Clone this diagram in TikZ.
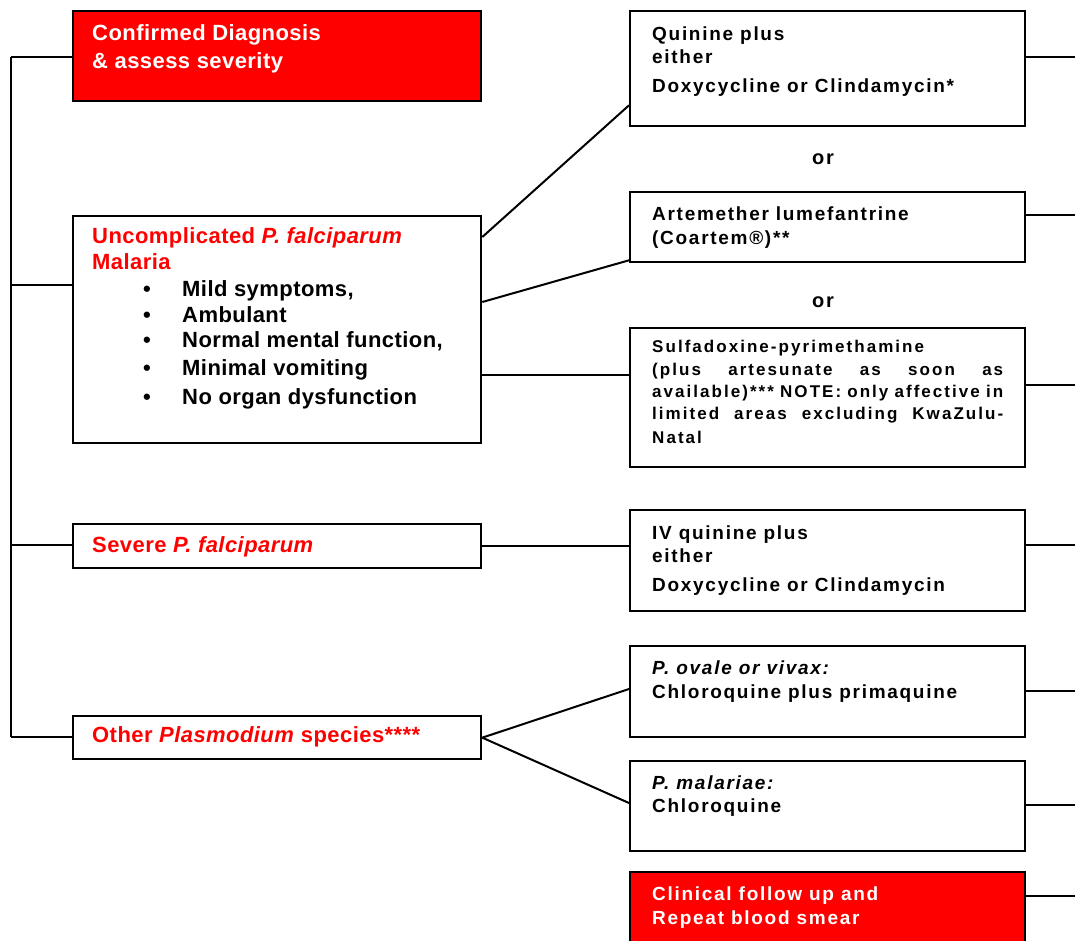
\documentclass[tikz,border=0pt]{standalone}
\usepackage{fontspec}
\setmainfont{Liberation Sans}
\newfontfamily\fL[LetterSpace=2]{Liberation Sans}
\newfontfamily\fR[LetterSpace=9]{Liberation Sans}
\newfontfamily\fS[LetterSpace=12]{Liberation Sans}
\definecolor{myred}{RGB}{255,0,0}
\begin{document}
\begin{tikzpicture}[x=1pt,y=-1pt,
 box/.style={draw=black, line width=2.3pt, fill=white, anchor=north west, inner sep=0pt},
 redbox/.style={box, fill=myred},
 conn/.style={line width=2pt},
 tl/.style={anchor=base west, inner sep=0pt, font=\fL\fontsize{22}{26}\selectfont\bfseries},
 tr/.style={anchor=base west, inner sep=0pt, font=\fR\fontsize{19}{22}\selectfont\bfseries},
 ts/.style={anchor=base west, inner sep=0pt, font=\fS\fontsize{17}{22}\selectfont\bfseries},
 ortext/.style={anchor=base, inner sep=0pt, font=\fR\fontsize{20}{24}\selectfont\bfseries},
]
\useasboundingbox (0,0) rectangle (1075,940);
\clip (0,0) rectangle (1075,940);

% left boxes
\node[redbox, minimum width=408pt, minimum height=90pt] (b1) at (72,10) {};
\node[box, minimum width=408pt, minimum height=227pt] (b2) at (72,215) {};
\node[box, minimum width=408pt, minimum height=44pt] (b3) at (72,523) {};
\node[box, minimum width=408pt, minimum height=43pt] (b4) at (72,715) {};

% right boxes
\node[box, minimum width=395pt, minimum height=115pt] (r1) at (629,10) {};
\node[box, minimum width=395pt, minimum height=70pt] (r2) at (629,191) {};
\node[box, minimum width=395pt, minimum height=139pt] (r3) at (629,327) {};
\node[box, minimum width=395pt, minimum height=101pt] (r4) at (629,509) {};
\node[box, minimum width=395pt, minimum height=91pt] (r5) at (629,645) {};
\node[box, minimum width=395pt, minimum height=90pt] (r6) at (629,760) {};
\node[redbox, minimum width=395pt, minimum height=80pt] (r7) at (629,871) {};

% left texts
\node[tl, text=white] (t1a) at (92,40) {Confirmed Diagnosis};
\node[tl, text=white] (t1b) at (92,68) {\& assess severity};
\node[tl, text=myred] (t2a) at (92,243) {Uncomplicated \textit{P. falciparum}};
\node[tl, text=myred] (t2b) at (92,269) {Malaria};
\foreach \yy/\txt [count=\i] in {296/{Mild symptoms,},322/{Ambulant},347/{Normal mental function,},375/{Minimal vomiting},404/{No organ dysfunction}}{
  \node[tl, anchor=base] (bu\i) at (147,\yy) {\textbullet};
  \node[tl] (bt\i) at (182,\yy) {\txt};
}
\node[tl, text=myred] (t3) at (92,552) {Severe \textit{P. falciparum}};
\node[tl, text=myred] (t4) at (92,742) {Other \textit{Plasmodium} species****};

% right texts
\node[tr] (s1a) at (652,40) {Quinine plus};
\node[tr] (s1b) at (652,63) {either};
\node[tr] (s1c) at (652,92) {Doxycycline or Clindamycin*};
\node[ortext] (or1) at (823,164) {or};
\node[tr] (s2a) at (652,220) {Artemether lumefantrine};
\node[tr] (s2b) at (652,244) {(Coartem®)**};
\node[ortext] (or2) at (823,307) {or};
\node[ts] (s3a) at (652,352) {Sulfadoxine-pyrimethamine};
\node[ts] (s3b) at (652,375) {\makebox[351pt][s]{(plus artesunate as soon as}};
\node[ts] (s3c) at (652,397) {\makebox[351pt][s]{available)*** NOTE: only affective in}};
\node[ts] (s3d) at (652,419) {\makebox[351pt][s]{limited areas excluding KwaZulu-}};
\node[ts] (s3e) at (652,443) {Natal};
\node[tr] (s4a) at (652,539) {IV quinine plus};
\node[tr] (s4b) at (652,562) {either};
\node[tr] (s4c) at (652,591) {Doxycycline or Clindamycin};
\node[tr] (s5a) at (652,674) {\textit{P. ovale or vivax:}};
\node[tr] (s5b) at (652,698) {Chloroquine plus primaquine};
\node[tr] (s6a) at (652,789) {\textit{P. malariae:}};
\node[tr] (s6b) at (652,812) {Chloroquine};
\node[tr, text=white] (s7a) at (652,900) {Clinical follow up and};
\node[tr, text=white] (s7b) at (652,924) {Repeat blood smear};

% trunk connectors
\coordinate (j1) at (11,57);
\coordinate (j2) at (11,285);
\coordinate (j3) at (11,545);
\coordinate (j4) at (11,737);
\draw[conn] (j1) -- (j4);
\draw[conn] (j1) -- (j1 -| b1.west);
\draw[conn] (j2) -- (j2 -| b2.west);
\draw[conn] (j3) -- (j3 -| b3.west);
\draw[conn] (j4) -- (j4 -| b4.west);

% left-to-right connectors
\draw[conn] ([yshift=-22pt]b2.north east) -- ([yshift=22pt]r1.south west);
\draw[conn] ([yshift=-87pt]b2.north east) -- ([yshift=3pt]r2.south west);
\draw[conn] ([yshift=-160pt]b2.north east) -- ([yshift=-48pt]r3.north west);
\draw[conn] (b3.east) -- (b3.east -| r4.west);
\draw[conn] (b4.east) -- ([yshift=-44pt]r5.north west);
\draw[conn] (b4.east) -- ([yshift=-43pt]r6.north west);

% right stubs
\foreach \yy [count=\i] in {57,215,385,545,691,805,896}{
  \coordinate (e\i) at (1075,\yy);
}
\draw[conn] (r1.east |- e1) -- (e1);
\draw[conn] (r2.east |- e2) -- (e2);
\draw[conn] (r3.east |- e3) -- (e3);
\draw[conn] (r4.east |- e4) -- (e4);
\draw[conn] (r5.east |- e5) -- (e5);
\draw[conn] (r6.east |- e6) -- (e6);
\draw[conn] (r7.east |- e7) -- (e7);
\end{tikzpicture}
\end{document}
